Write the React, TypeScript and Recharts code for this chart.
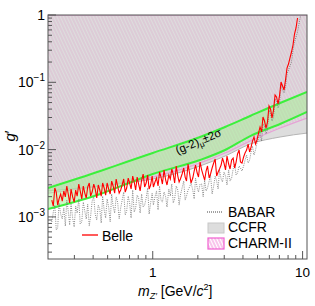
import React from "react";
import { ComposedChart, Area, Line, XAxis, YAxis } from "recharts";

// mass grid of the scans (GeV/c^2)
const masses = [
  0.212, 0.217, 0.222, 0.227, 0.232, 0.237, 0.243, 0.249, 0.255, 0.261,
  0.267, 0.273, 0.279, 0.285, 0.292, 0.299, 0.306, 0.313, 0.321, 0.328,
  0.336, 0.344, 0.352, 0.36, 0.368, 0.377, 0.385, 0.394, 0.404, 0.413,
  0.423, 0.433, 0.443, 0.453, 0.463, 0.474, 0.485, 0.496, 0.508, 0.52,
  0.532, 0.544, 0.557, 0.57, 0.583, 0.597, 0.611, 0.625, 0.64, 0.655,
  0.67, 0.686, 0.701, 0.717, 0.735, 0.752, 0.769, 0.787, 0.805, 0.824,
  0.843, 0.863, 0.883, 0.904, 0.925, 0.946, 0.968, 0.991, 1.01, 1.035,
  1.06, 1.085, 1.11, 1.135, 1.16, 1.19, 1.22, 1.245, 1.28, 1.31,
  1.34, 1.37, 1.4, 1.435, 1.47, 1.5, 1.53, 1.57, 1.61, 1.645,
  1.68, 1.72, 1.76, 1.8, 1.85, 1.89, 1.93, 1.98, 2.02, 2.07,
  2.12, 2.17, 2.22, 2.27, 2.32, 2.38, 2.43, 2.49, 2.55, 2.61,
  2.67, 2.73, 2.79, 2.86, 2.92, 2.99, 3.06, 3.13, 3.21, 3.28,
  3.36, 3.44, 3.52, 3.6, 3.68, 3.77, 3.85, 3.94, 4.04, 4.13,
  4.23, 4.33, 4.43, 4.53, 4.63, 4.74, 4.85, 4.96, 5.08, 5.2,
  5.32, 5.44, 5.57, 5.7, 5.83, 5.97, 6.11, 6.25, 6.4, 6.55,
  6.7, 6.86, 7.01, 7.18, 7.35, 7.52, 7.69, 7.87, 8.05, 8.24,
  8.43, 8.63, 8.83, 9.04, 9.25, 9.46, 9.68,
];

// Belle 90% CL upper limit on g'
const belle = [
  1.78e-3, 1.45e-3, 2.69e-3, 2.34e-3, 1.5e-3, 1.85e-3, 2.19e-3, 1.72e-3, 2.43e-3, 1.98e-3,
  2.88e-3, 2.19e-3, 1.61e-3, 2.6e-3, 1.98e-3, 1.66e-3, 2.51e-3, 2.04e-3, 3.08e-3, 2.43e-3,
  1.85e-3, 2.88e-3, 2.26e-3, 1.91e-3, 2.78e-3, 3.19e-3, 2.04e-3, 2.34e-3, 3.08e-3, 2.6e-3,
  1.91e-3, 2.98e-3, 2.51e-3, 2.04e-3, 3.19e-3, 2.69e-3, 2.11e-3, 3.19e-3, 2.6e-3, 2.19e-3,
  3.41e-3, 2.88e-3, 2.26e-3, 3.66e-3, 2.88e-3, 2.26e-3, 2.51e-3, 2.98e-3, 3.66e-3, 2.34e-3,
  2.69e-3, 3.78e-3, 3.19e-3, 2.6e-3, 4.05e-3, 3.3e-3, 2.51e-3, 3.91e-3, 3.08e-3, 2.43e-3,
  3.53e-3, 4.34e-3, 2.78e-3, 3.19e-3, 4.19e-3, 2.6e-3, 2.98e-3, 4.05e-3, 2.78e-3, 3.3e-3,
  3.78e-3, 2.88e-3, 4.65e-3, 3.91e-3, 3.08e-3, 4.98e-3, 3.53e-3, 2.98e-3, 4.19e-3, 3.66e-3,
  5.15e-3, 4.34e-3, 3.19e-3, 5.71e-3, 4.05e-3, 3.3e-3, 3.66e-3, 4.34e-3, 5.33e-3, 3.91e-3,
  3.41e-3, 6.11e-3, 4.49e-3, 3.19e-3, 3.78e-3, 4.81e-3, 5.9e-3, 4.49e-3, 3.91e-3, 6.54e-3,
  4.98e-3, 4.19e-3, 3.53e-3, 4.81e-3, 5.71e-3, 3.78e-3, 4.34e-3, 5.33e-3, 6.32e-3, 7.25e-3,
  4.05e-3, 4.65e-3, 5.15e-3, 5.9e-3, 7.5e-3, 6.32e-3, 4.98e-3, 8.03e-3, 6.11e-3, 5.15e-3,
  7.0e-3, 7.5e-3, 5.33e-3, 6.54e-3, 8.6e-3, 9.86e-3, 6.54e-3, 6.32e-3, 7.76e-3, 8.9e-3,
  9.86e-3, 1.21e-2, 9.21e-3, 1.09e-2, 1.34e-2, 1.54e-2, 1.21e-2, 1.39e-2, 1.76e-2, 2.17e-2,
  1.83e-2, 3.05e-2, 2.66e-2, 2.09e-2, 2.57e-2, 4.44e-2, 4.01e-2, 2.95e-2, 3.88e-2, 6.48e-2,
  6.05e-2, 4.76e-2, 6.26e-2, 0.101, 8.81e-2, 7.68e-2, 0.108, 0.163, 0.187, 0.23,
  0.282, 0.358, 0.522, 0.641, 0.902, null, null,
];

// BABAR limit
const babar = [
  8.4e-4, 1.18e-3, 1.5e-3, 6.39e-4, 6.84e-4, 1.61e-3, 1.1e-3, 9.31e-4, 1.36e-3, 7.32e-4,
  1.78e-3, 1.22e-3, 7.58e-4, 1.55e-3, 9.63e-4, 7.08e-4, 1.45e-3, 1.14e-3, 1.85e-3, 7.84e-4,
  8.4e-4, 1.66e-3, 1.22e-3, 9.31e-4, 1.55e-3, 7.32e-4, 1.03e-3, 1.72e-3, 1.98e-3, 1.1e-3,
  8.99e-4, 1.5e-3, 1.31e-3, 8.11e-4, 2.04e-3, 1.27e-3, 9.63e-4, 1.85e-3, 1.4e-3, 8.4e-4,
  2.19e-3, 1.45e-3, 1.14e-3, 1.98e-3, 1.66e-3, 9.31e-4, 1.36e-3, 1.78e-3, 2.34e-3, 1.07e-3,
  1.22e-3, 2.04e-3, 1.61e-3, 9.63e-4, 2.51e-3, 1.18e-3, 1.36e-3, 2.11e-3, 1.91e-3, 1.14e-3,
  2.19e-3, 1.4e-3, 1.5e-3, 1.91e-3, 2.69e-3, 1.1e-3, 1.61e-3, 2.26e-3, 1.5e-3, 1.98e-3,
  2.43e-3, 1.27e-3, 2.88e-3, 1.78e-3, 1.66e-3, 2.34e-3, 1.98e-3, 1.4e-3, 2.6e-3, 2.04e-3,
  3.08e-3, 1.61e-3, 1.85e-3, 2.88e-3, 2.51e-3, 1.5e-3, 2.11e-3, 2.69e-3, 3.41e-3, 1.78e-3,
  2.04e-3, 2.51e-3, 2.78e-3, 3.19e-3, 2.51e-3, 1.85e-3, 3.78e-3, 2.69e-3, 2.34e-3, 3.08e-3,
  3.08e-3, 1.98e-3, 3.53e-3, 2.43e-3, 2.69e-3, 3.41e-3, 4.19e-3, 2.19e-3, 2.88e-3, 4.05e-3,
  3.41e-3, 2.6e-3, 4.98e-3, 3.66e-3, 3.3e-3, 4.65e-3, 4.05e-3, 2.98e-3, 4.98e-3, 3.41e-3,
  3.78e-3, 5.15e-3, 6.11e-3, 4.19e-3, 4.49e-3, 5.71e-3, 5.33e-3, 4.81e-3, 5.71e-3, 7.0e-3,
  8.31e-3, 6.32e-3, 7.0e-3, 9.21e-3, 1.13e-2, 8.31e-3, 9.86e-3, 1.25e-2, 1.49e-2, 1.76e-2,
  1.34e-2, 2.4e-2, 2.24e-2, 1.71e-2, 2.02e-2, 3.88e-2, 3.38e-2, 2.66e-2, 3.05e-2, 5.65e-2,
  5.1e-2, 4.15e-2, 4.76e-2, 9.12e-2, 7.68e-2, 6.93e-2, 8.51e-2, 0.133, 0.152, 0.175,
  0.2, 0.302, 0.397, 0.471, 0.559, 0.735, 0.966,
];

// bands / exclusion boundaries
const bandMass = [0.2, 0.447, 0.666, 1.0, 2.07, 3.04, 4.47, 7.08, 10.7];
const g2Upper = [2.69e-3, 4.81e-3, 6.54e-3, 8.9e-3, 1.54e-2, 2.17e-2, 3.16e-2, 4.92e-2, 7.18e-2];
const g2Lower = [1.31e-3, 2.19e-3, 3.08e-3, 4.34e-3, 7.0e-3, 9.86e-3, 1.59e-2, 2.4e-2, 3.62e-2];
const ccfr = [2.43e-3, 2.88e-3, 3.19e-3, 3.66e-3, 5.71e-3, 8.03e-3, 1.21e-2, 1.54e-2, 1.76e-2];
const charm2 = [2.26e-3, 2.88e-3, 3.3e-3, 3.91e-3, 6.32e-3, 8.9e-3, 1.34e-2, 2.09e-2, 2.95e-2];

const xTicks = [0.3, 0.4, 0.5, 0.6, 0.7, 0.8, 0.9, 1, 2, 3, 4, 5, 6, 7, 8, 9, 10];
const xMajor = [1, 10];
const xLabels = ["1", "10"];
const yTicks = [
  3e-4, 4e-4, 5e-4, 6e-4, 7e-4, 8e-4, 9e-4, 1e-3,
  2e-3, 3e-3, 4e-3, 5e-3, 6e-3, 7e-3, 8e-3, 9e-3, 1e-2,
  2e-2, 3e-2, 4e-2, 5e-2, 6e-2, 7e-2, 8e-2, 9e-2, 0.1,
  0.2, 0.3, 0.4, 0.5, 0.6, 0.7, 0.8, 0.9, 1,
];
const yMajor = [1e-3, 1e-2, 0.1, 1];
const yExp = ["\u22123", "\u22122", "\u22121", ""];

const scanData = masses.map((m, i) => ({ m, belle: belle[i], babar: babar[i] }));
const bandData = bandMass.map((m, i) => ({
  m,
  g2: [g2Lower[i], g2Upper[i]],
  g2Lower: g2Lower[i],
  g2Upper: g2Upper[i],
  ccfr: [ccfr[i], 1],
  charm: [charm2[i], 1],
}));

const font = "'Liberation Sans', Arial, Helvetica, sans-serif";
const axisColor = "#555";

const YTick = (props: any) => {
  const { x, y, payload } = props;
  const idx = yMajor.indexOf(payload.value);
  const major = idx >= 0;
  return (
    <g>
      <line x1={x} x2={x + (major ? 8 : 4)} y1={y} y2={y} stroke={axisColor} />
      {major && (
        <text x={x - 3} y={y + 5} textAnchor="end" fontSize={14} fontFamily={font} fill="#000">
          {yExp[idx] === "" ? "1" : "10"}
          {yExp[idx] !== "" && (
            <tspan dy={-6} fontSize={10}>{yExp[idx]}</tspan>
          )}
        </text>
      )}
    </g>
  );
};

const XTick = (props: any) => {
  const { x, y, payload } = props;
  const idx = xMajor.indexOf(payload.value);
  const major = idx >= 0;
  return (
    <g>
      <line x1={x} x2={x} y1={y} y2={y - (major ? 8 : 4)} stroke={axisColor} />
      {major && (
        <text x={x} y={y + 18} textAnchor="middle" fontSize={13.5} fontFamily={font} fill="#000">
          {xLabels[idx]}
        </text>
      )}
    </g>
  );
};

export default function App() {
  return (
    <div style={{ position: "absolute", left: 0, top: 0, width: 315, height: 306, background: "#fff" }}>
      <svg width={0} height={0} style={{ position: "absolute" }}>
        <defs>
          <pattern id="charmHatch" width="3" height="3" patternUnits="userSpaceOnUse" patternTransform="rotate(-25)">
            <line x1="1" y1="0" x2="1" y2="3" stroke="#dcb0cd" strokeWidth="0.8" />
          </pattern>
          <pattern id="legendHatch" width="3" height="3" patternUnits="userSpaceOnUse" patternTransform="rotate(-25)">
            <line x1="1" y1="0" x2="1" y2="3" stroke="#f28ad8" strokeWidth="1" />
          </pattern>
        </defs>
      </svg>
      <ComposedChart width={315} height={306} margin={{ top: 15, right: 8, bottom: 17, left: 8 }}>
        <XAxis
          dataKey="m"
          type="number"
          scale="log"
          domain={[0.2, 10.7]}
          allowDataOverflow
          ticks={xTicks}
          interval={0}
          height={30}
          tickSize={0}
          tickMargin={0}
          axisLine={false}
          tickLine={false}
          tick={<XTick />}
        />
        <YAxis
          type="number"
          scale="log"
          domain={[2.37e-4, 1]}
          allowDataOverflow
          ticks={yTicks}
          interval={0}
          width={40}
          tickSize={0}
          tickMargin={0}
          axisLine={false}
          tickLine={false}
          tick={<YTick />}
        />
        <Area
          data={bandData}
          dataKey="ccfr"
          type="monotone"
          fill="#dddddd"
          fillOpacity={1}
          stroke="#b4b4b4"
          strokeWidth={1}
          isAnimationActive={false}
        />
        <Area
          data={bandData}
          dataKey="charm"
          type="monotone"
          fill="url(#charmHatch)"
          fillOpacity={1}
          stroke="#e6a2d6"
          strokeWidth={1.2}
          isAnimationActive={false}
        />
        <Area
          data={bandData}
          dataKey="g2"
          type="monotone"
          fill="#a8ee98"
          fillOpacity={0.55}
          stroke="none"
          isAnimationActive={false}
        />
        <Line data={bandData} dataKey="g2Upper" type="monotone" stroke="#3cf03c" strokeWidth={2} dot={false} isAnimationActive={false} />
        <Line data={bandData} dataKey="g2Lower" type="monotone" stroke="#3cf03c" strokeWidth={2} dot={false} isAnimationActive={false} />
        <Line
          data={scanData}
          dataKey="babar"
          type="linear"
          stroke="#707070"
          strokeWidth={0.8}
          strokeDasharray="1 1.2"
          dot={false}
          isAnimationActive={false}
        />
        <Line
          data={scanData}
          dataKey="belle"
          type="linear"
          stroke="#ff0000"
          strokeWidth={1.1}
          dot={false}
          isAnimationActive={false}
        />
      </ComposedChart>
      <svg
        width={315}
        height={306}
        style={{ position: "absolute", left: 0, top: 0, pointerEvents: "none" }}
        fontFamily={font}
      >
        <rect x={48} y={15} width={259} height={244} fill="none" stroke={axisColor} strokeWidth={1} />
        <text transform="translate(200,145) rotate(-23)" textAnchor="middle" fontSize={11.5} fill="#000">
          (g-2)
          <tspan dy={3} fontSize={8}>μ</tspan>
          <tspan dy={-3}>±2σ</tspan>
        </text>
        <text transform="translate(15,136) rotate(-90)" textAnchor="middle" fontSize={15} fill="#000">
          <tspan fontStyle="italic">g</tspan>′
        </text>
        <text x={138} y={296} fontSize={14} fill="#000">
          <tspan fontStyle="italic">m</tspan>
          <tspan dy={3} fontSize={9} fontStyle="italic">Z′</tspan>
          <tspan dy={-3}> [GeV/</tspan>
          <tspan fontStyle="italic">c</tspan>
          <tspan dy={-6} fontSize={9}>2</tspan>
          <tspan dy={6}>]</tspan>
        </text>
        <line x1={207} x2={223} y1={212} y2={212} stroke="#444" strokeWidth={1} strokeDasharray="1 1" />
        <text x={228} y={217} fontSize={14} fill="#000">BABAR</text>
        <rect x={208} y={223} width={16} height={10} fill="#dddddd" stroke="#c8c8c8" />
        <text x={228} y={232} fontSize={14} fill="#000">CCFR</text>
        <rect x={208} y={238} width={16} height={11} fill="url(#legendHatch)" stroke="#f060d0" strokeWidth={1.2} />
        <text x={228} y={248} fontSize={14} fill="#000">CHARM-II</text>
        <line x1={82} x2={98} y1={235} y2={235} stroke="#ff0000" strokeWidth={1.3} />
        <text x={102} y={241} fontSize={14} fill="#000">Belle</text>
      </svg>
    </div>
  );
}
